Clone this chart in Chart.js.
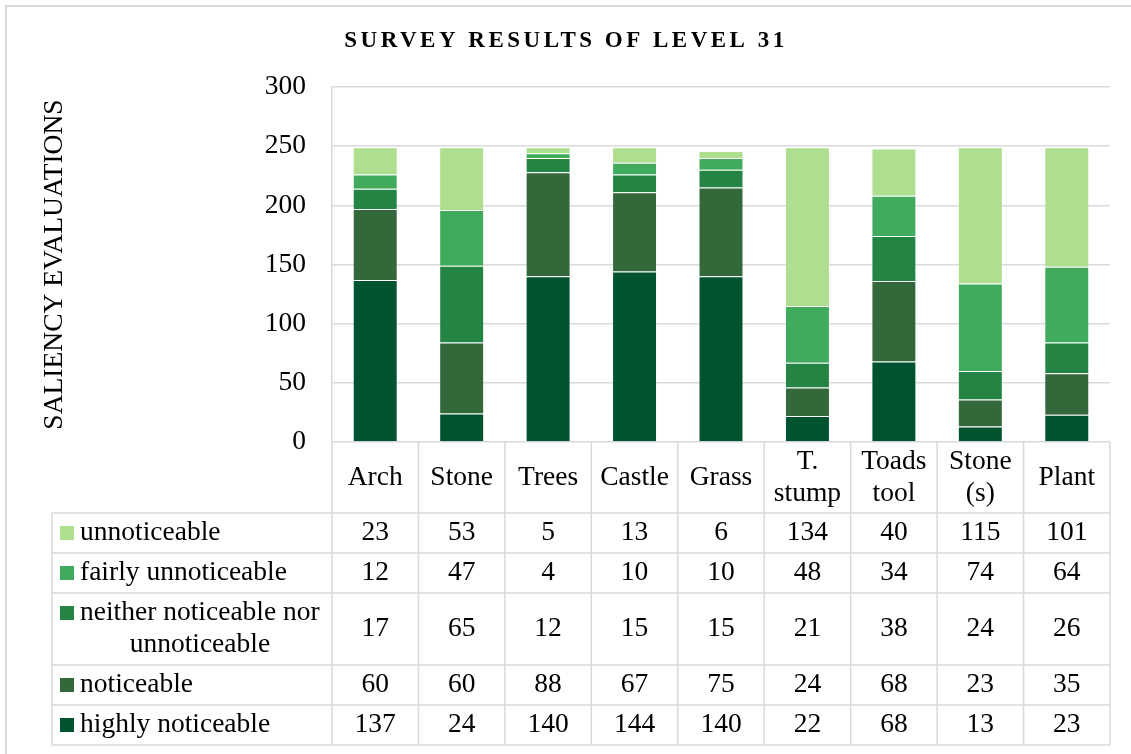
<!DOCTYPE html>
<html><head><meta charset="utf-8">
<script src="https://cdn.jsdelivr.net/npm/chart.js@4"></script>
<style>html,body{margin:0;padding:0;background:#fff;overflow:hidden;}canvas{display:block;}</style>
</head><body>
<canvas id="c" width="1131" height="754"></canvas>
<script>
// ---- data ----
const categories = [["Arch"],["Stone"],["Trees"],["Castle"],["Grass"],["T.","stump"],["Toads","tool"],["Stone","(s)"],["Plant"]];
const highlyNoticeable   = [137, 24, 140, 144, 140, 22, 68, 13, 23];
const noticeable         = [60, 60, 88, 67, 75, 24, 68, 23, 35];
const neitherNoticeable  = [17, 65, 12, 15, 15, 21, 38, 24, 26];
const fairlyUnnoticeable = [12, 47, 4, 10, 10, 48, 34, 74, 64];
const unnoticeable       = [23, 53, 5, 13, 6, 134, 40, 115, 101];
const seriesNames  = ["highly noticeable","noticeable","neither noticeable nor unnoticeable","fairly unnoticeable","unnoticeable"];
const legendLines  = [["highly noticeable"],["noticeable"],["neither noticeable nor","unnoticeable"],["fairly unnoticeable"],["unnoticeable"]];
const seriesColors = ["#00532F","#32683A","#238443","#41AB5D","#ADDF8E"];
const yTickMin = 0, yTickMax = 300, yTickStep = 50;
const chartTitle = "SURVEY RESULTS OF LEVEL 31";
const yAxisTitle = "SALIENCY EVALUATIONS";

const seriesValues = [highlyNoticeable, noticeable, neitherNoticeable, fairlyUnnoticeable, unnoticeable];

// ---- styling / layout ----
const FONT = "'Liberation Serif','Times New Roman',serif";
const TXT = 27.5;
const GRID = '#d9d9d9';
const rowEdges = [513, 553, 593, 665, 705, 745];
const legendLeft = 52;

const tablePlugin = {
  id: 'dataTable',
  beforeDraw(chart) {
    const ctx = chart.ctx;
    ctx.save();
    ctx.strokeStyle = GRID; ctx.lineWidth = 2;
    ctx.beginPath(); ctx.moveTo(6, 760); ctx.lineTo(6, 6); ctx.lineTo(1140, 6); ctx.stroke();
    ctx.restore();
    const tb = chart.titleBlock;
    if (tb && !tb._ls) {
      const orig = tb.draw.bind(tb);
      tb.draw = function(a) { const c = chart.ctx; c.save(); c.letterSpacing = '3.5px'; c.translate(11, 0); orig(a); c.restore(); };
      tb._ls = true;
    }
  },
  afterDraw(chart) {
    const {ctx, chartArea, scales: {x}} = chart;
    const n = categories.length;
    const colW = chartArea.width / n;
    const line = (x1, y1, x2, y2) => { ctx.beginPath(); ctx.moveTo(x1, y1); ctx.lineTo(x2, y2); ctx.stroke(); };
    ctx.save();
    ctx.strokeStyle = GRID; ctx.lineWidth = 1.5;
    for (let i = 0; i <= n; i++) {
      const xx = (i < n ? x.getPixelForValue(i) - colW / 2 : x.getPixelForValue(n - 1) + colW / 2);
      line(xx, chartArea.bottom, xx, rowEdges[rowEdges.length - 1]);
    }
    rowEdges.forEach(y => line(legendLeft, y, chartArea.right, y));
    line(legendLeft, rowEdges[0], legendLeft, rowEdges[rowEdges.length - 1]);

    ctx.fillStyle = '#000';
    ctx.font = TXT + 'px ' + FONT;
    ctx.textBaseline = 'middle';
    const lh = 32;
    ctx.textAlign = 'center';
    const hMid = (chartArea.bottom + rowEdges[0]) / 2;
    categories.forEach((lines, i) => {
      const cx = x.getPixelForValue(i);
      const y0 = hMid - (lines.length - 1) * lh / 2;
      lines.forEach((t, k) => ctx.fillText(t, cx, y0 + k * lh));
    });
    for (let r = 0; r < seriesValues.length; r++) {
      const si = seriesValues.length - 1 - r;
      const mid = (rowEdges[r] + rowEdges[r + 1]) / 2;
      const lines = legendLines[si];
      const y0 = mid - (lines.length - 1) * lh / 2;
      ctx.fillStyle = seriesColors[si];
      ctx.fillRect(60, y0 - 7, 14, 14);
      ctx.fillStyle = '#000';
      ctx.textAlign = 'left';
      ctx.fillText(lines[0], 80, y0);
      const w0 = ctx.measureText(lines[0]).width;
      ctx.textAlign = 'center';
      for (let k = 1; k < lines.length; k++) ctx.fillText(lines[k], 80 + w0 / 2, y0 + k * lh);
      seriesValues[si].forEach((v, i) => ctx.fillText(String(v), x.getPixelForValue(i), mid));
    }
    ctx.restore();
  }
};

new Chart(document.getElementById('c'), {
  type: 'bar',
  data: {
    labels: categories,
    datasets: seriesValues.map((vals, i) => ({
      label: seriesNames[i],
      data: vals,
      backgroundColor: seriesColors[i],
      borderColor: 'rgba(255,255,255,0.2)',
      borderWidth: 1,
      barPercentage: 0.52,
      categoryPercentage: 1
    }))
  },
  options: {
    responsive: false,
    animation: false,
    layout: { padding: { top: 0, left: 0, right: 21, bottom: 312 } },
    plugins: {
      legend: { display: false },
      tooltip: { enabled: false },
      title: {
        display: true, text: chartTitle, color: '#000',
        font: { family: FONT, size: 23, weight: 'bold' },
        padding: { top: 27.2, bottom: 32.2 }
      }
    },
    scales: {
      x: { stacked: true, display: false },
      y: {
        stacked: true, min: yTickMin, max: yTickMax,
        ticks: { stepSize: yTickStep, color: '#000', padding: 26, font: { family: FONT, size: TXT } },
        grid: { color: GRID, lineWidth: 1.5, drawTicks: false },
        border: { display: true, color: GRID, width: 1.5 },
        title: { display: true, text: yAxisTitle, color: '#000', font: { family: FONT, size: TXT }, padding: { top: 38.5, bottom: 0 } },
        afterFit(scale) { scale.width = 332; }
      }
    }
  },
  plugins: [tablePlugin]
});
</script>
</body></html>
